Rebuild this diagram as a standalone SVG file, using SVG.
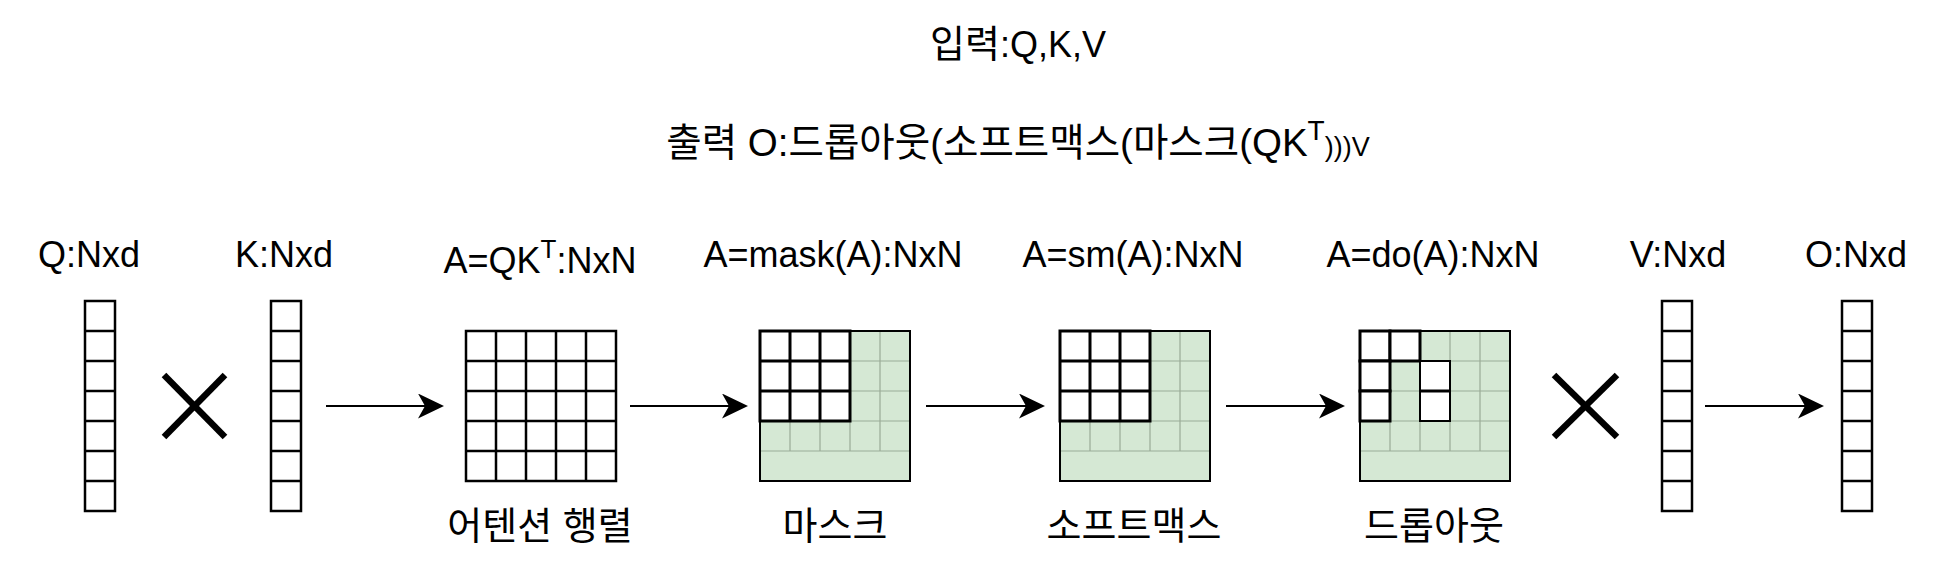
<svg xmlns="http://www.w3.org/2000/svg" width="1947" height="570" viewBox="0 0 1947 570">
<style>
.t{font-family:"Liberation Sans","Noto Sans CJK KR",sans-serif;font-size:36px;fill:#000;text-anchor:middle}
.k{font-size:38px}
.h2{font-size:38.5px}
.cell{fill:#fff;stroke:#000;stroke-width:2.5}
.ln{fill:none;stroke:#000;stroke-width:2.5}
.grn{fill:#d5e8d4;stroke:none}
.gl{fill:none;stroke:#9aab97;stroke-width:1.2}
.wb{fill:#fff;stroke:#000;stroke-width:3}
.wl{fill:none;stroke:#000;stroke-width:3}
.wc{fill:#fff;stroke:#000;stroke-width:2}
.bd{fill:none;stroke:#000;stroke-width:2}
.x{stroke:#000;stroke-width:6.5;stroke-linecap:butt}
.conn{fill:none;stroke:#000;stroke-width:2;marker-end:url(#arr)}
</style>
<defs>
<marker id="arr" viewBox="0 0 26 25" markerUnits="userSpaceOnUse" markerWidth="26" markerHeight="25" refX="7" refY="12.5" orient="auto">
<path d="M0,0 L26,12.5 L0,25 L7,12.5 Z" fill="#000"/>
</marker>
<g id="vec">
<rect class="cell" x="0" y="0" width="30" height="210"/>
<path class="ln" d="M0,30H30M0,60H30M0,90H30M0,120H30M0,150H30M0,180H30"/>
</g>
<g id="greenbase">
<rect class="grn" x="0" y="0" width="150" height="150"/>
<path class="gl" d="M30,0V120M60,0V120M90,0V120M120,0V120M0,30H150M0,60H150M0,90H150M0,120H150"/>
</g>
</defs>

<g id="titles">
<text class="t" x="1018" y="57"><tspan font-size="38">입력</tspan>:Q,K,V</text>
<text class="t h2" x="1018" y="156">출력 O:드롭아웃(소프트맥스(마스크(QK<tspan dy="-16" font-size="28">T</tspan><tspan dy="16" font-size="27">)))V</tspan></text>
</g>

<g id="node-q">
<text class="t" x="89" y="267">Q:Nxd</text>
<use href="#vec" x="85" y="301"/>
</g>

<g id="op-mul1">
<line class="x" x1="164" y1="375" x2="225" y2="437"/>
<line class="x" x1="225" y1="375" x2="164" y2="437"/>
</g>

<g id="node-k">
<text class="t" x="284" y="267">K:Nxd</text>
<use href="#vec" x="271" y="301"/>
</g>

<g id="node-attn">
<text class="t" x="540" y="273">A=QK<tspan dy="-15" font-size="26">T</tspan><tspan dy="15">:NxN</tspan></text>
<rect class="cell" x="466" y="331" width="150" height="150"/>
<path class="ln" d="M496,331V481M526,331V481M556,331V481M586,331V481M466,361H616M466,391H616M466,421H616M466,451H616"/>
<text class="t k" x="540" y="539">어텐션 행렬</text>
</g>

<g id="node-mask">
<text class="t" x="833" y="267">A=mask(A):NxN</text>
<use href="#greenbase" x="760" y="331"/>
<rect class="wb" x="760" y="331" width="90" height="90"/>
<path class="wl" d="M790,331V421M820,331V421M760,361H850M760,391H850"/>
<rect class="bd" x="760" y="331" width="150" height="150"/>
<text class="t k" x="835" y="539">마스크</text>
</g>

<g id="node-softmax">
<text class="t" x="1133" y="267">A=sm(A):NxN</text>
<use href="#greenbase" x="1060" y="331"/>
<rect class="wb" x="1060" y="331" width="90" height="90"/>
<path class="wl" d="M1090,331V421M1120,331V421M1060,361H1150M1060,391H1150"/>
<rect class="bd" x="1060" y="331" width="150" height="150"/>
<text class="t k" x="1134" y="539">소프트맥스</text>
</g>

<g id="node-dropout">
<text class="t" x="1433" y="267">A=do(A):NxN</text>
<use href="#greenbase" x="1360" y="331"/>
<rect class="wb" x="1360" y="331" width="30" height="30"/>
<rect class="wb" x="1390" y="331" width="30" height="30"/>
<rect class="wb" x="1360" y="361" width="30" height="30"/>
<rect class="wb" x="1360" y="391" width="30" height="30"/>
<rect class="wc" x="1420" y="361" width="30" height="30"/>
<rect class="wc" x="1420" y="391" width="30" height="30"/>
<line x1="1420" y1="391" x2="1450" y2="391" stroke="#000" stroke-width="3"/>
<rect class="bd" x="1360" y="331" width="150" height="150"/>
<text class="t k" x="1434" y="539">드롭아웃</text>
</g>

<g id="op-mul2">
<line class="x" x1="1554" y1="375" x2="1617" y2="437"/>
<line class="x" x1="1617" y1="375" x2="1554" y2="437"/>
</g>

<g id="node-v">
<text class="t" x="1678" y="267">V:Nxd</text>
<use href="#vec" x="1662" y="301"/>
</g>

<g id="node-o">
<text class="t" x="1856" y="267">O:Nxd</text>
<use href="#vec" x="1842" y="301"/>
</g>

<g id="connectors">
<line class="conn" x1="326" y1="406" x2="425" y2="406"/>
<line class="conn" x1="630" y1="406" x2="729" y2="406"/>
<line class="conn" x1="926" y1="406" x2="1026" y2="406"/>
<line class="conn" x1="1226" y1="406" x2="1326" y2="406"/>
<line class="conn" x1="1705" y1="406" x2="1805" y2="406"/>
</g>
</svg>
